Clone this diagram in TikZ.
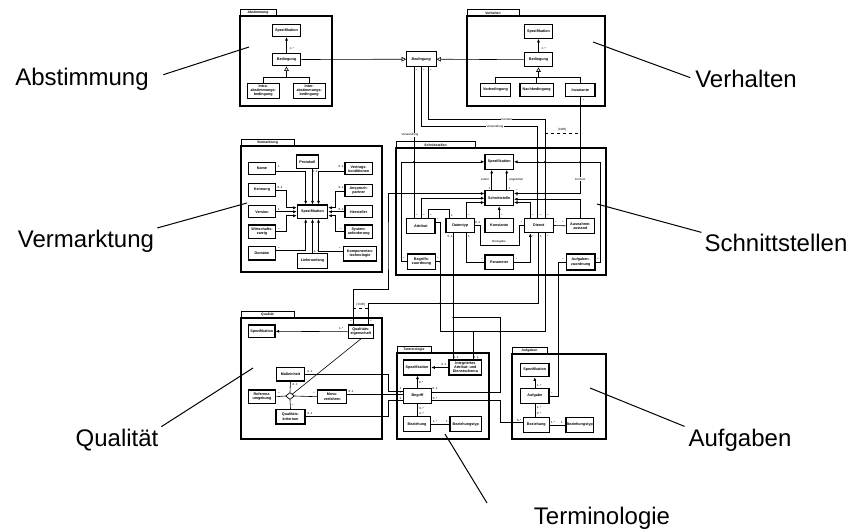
\documentclass[tikz,border=0pt]{standalone}
\usepackage{fontspec}
\setmainfont{Liberation Sans}
\usetikzlibrary{arrows.meta,positioning,calc,shapes.geometric}

\newcommand{\bxf}{\fontsize{3.7}{4.1}\selectfont\bfseries}
\newcommand{\mlf}{\fontsize{3}{3.4}\selectfont}
\newcommand{\tabf}{\fontsize{3.4}{4}\selectfont\bfseries}
\newcommand{\lblf}{\fontsize{24}{28}\selectfont}

\begin{document}
\begin{tikzpicture}[x=1pt,y=-1pt,line width=0.6pt,
  cls/.style={draw,line width=1.2pt,fill=white,inner sep=0pt,align=center,font=\bxf,minimum width=28.4pt,minimum height=13.5pt},
  mult/.style={font=\mlf,inner sep=0.4pt},
  tag/.style={font=\mlf,inner sep=0.6pt,fill=white},
  big/.style={font=\lblf,inner sep=1pt},
  arr/.style={-{Latex[length=3.5pt,width=3pt]}},
  gen/.style={-{Triangle[open,length=4.5pt,width=4.5pt]}},
  pointer/.style={line width=1pt}]
\useasboundingbox (0,0) rectangle (855,531);

% packages
\foreach \xa/\ya/\xb/\yb/\xt/\nm [count=\k] in {240/16/332/106/276/Abstimmung, 467/16/605/106/519/Verhalten,
  241/146/382/272/294/Vermarktung, 396/148/606/275/475/Schnittstellen, 241/318/382/439/294/Qualität,
  397/353/489/439/431/Terminologie, 512/354/606/439/547/Aufgaben}{
  \draw[line width=0.6pt] (\xa,\ya) rectangle (\xt,\ya-6.5);
  \node[font=\tabf,inner sep=0pt] (tab\k) at ({(\xa+\xt)/2},\ya-3.2) {\nm};
  \draw[line width=1.2pt] (\xa,\ya) rectangle (\xb,\yb);
  \draw[line width=2pt] (\xa,\ya) -- (\xb,\ya);
}

% Abstimmung
\node[cls,minimum height=12pt] (aSpez) at (286.5,30.5) {Spezifikation};
\node[cls,minimum height=12.5pt] (aBed) at (286.5,59.5) {Bedingung};
\node[cls,minimum width=32pt,minimum height=15.5pt] (aIntra) at (263.3,91) {Intra-\\abstimmungs-\\bedingung};
\node[cls,minimum width=32pt,minimum height=15.5pt] (aInter) at (309.2,91) {Inter-\\abstimmungs-\\bedingung};
% Bedingung
\node[cls,line width=0.8pt,font=\bxf\itshape,minimum width=29.5pt,minimum height=15pt] (mBed) at (421.3,59.2) {Bedingung};
% Verhalten
\node[cls] (hSpez) at (538.5,31.5) {Spezifikation};
\node[cls,minimum height=14pt] (hBed) at (538.5,59.7) {Bedingung};
\node[cls,minimum width=29.5pt] (hVor) at (495.5,90) {Vorbedingung};
\node[cls,minimum width=33.3pt] (hNach) at (536.7,90) {Nachbedingung};
\node[cls,minimum width=29.3pt] (hInv) at (580.3,90) {Invariante};
% Vermarktung
\node[cls,minimum width=27.4pt,minimum height=11.6pt] (vName) at (262,168.5) {Name};
\node[cls,minimum width=27.4pt] (vKenn) at (262,190) {Kennung};
\node[cls,minimum width=27.4pt,minimum height=12pt] (vVers) at (262,211.7) {Version};
\node[cls,minimum width=27.4pt] (vWirt) at (262,231.7) {Wirtschafts-\\zweig};
\node[cls,minimum width=27.4pt] (vDom) at (262,253.3) {Domäne};
\node[cls,minimum width=21.6pt] (vProt) at (307.5,161.7) {Protokoll};
\node[cls,minimum width=30.4pt] (vSpez) at (312.5,211.7) {Spezifikation};
\node[cls,minimum width=30.4pt,minimum height=15pt] (vLief) at (312.5,260.8) {Lieferumfang};
\node[cls,minimum width=27.3pt,minimum height=12pt] (vVert) at (358.7,168.8) {Vertrags-\\konditionen};
\node[cls,minimum width=27.3pt,minimum height=12pt] (vAnsp) at (358.7,190.8) {Ansprech-\\partner};
\node[cls,minimum width=27.3pt,minimum height=12pt] (vHerst) at (358.7,211.7) {Hersteller};
\node[cls,minimum width=27.3pt] (vSys) at (358.7,231.7) {System-\\anforderung};
\node[cls,minimum width=33.4pt,minimum height=14.3pt] (vKomp) at (360,253.8) {Komponenten-\\technologie};
% Schnittstellen
\node[cls,minimum height=15pt] (sSpez) at (499.2,161.8) {Spezifikation};
\node[cls,minimum height=15pt] (sSchn) at (499.2,198.2) {Schnittstelle};
\node[cls,minimum height=14.4pt] (sKon) at (499.2,225.5) {Konstante};
\node[cls,minimum height=14.4pt] (sDat) at (460.2,225.5) {Datentyp};
\node[cls,minimum width=29pt,minimum height=14.4pt] (sDien) at (538.8,225.5) {Dienst};
\node[cls,minimum height=14.3pt] (sPar) at (499.2,262.2) {Parameter};
\node[cls,minimum height=15pt] (sAttr) at (420.8,225.8) {Attribut};
\node[cls,minimum height=15.3pt] (sBegr) at (421.5,261.7) {Begriffs-\\zuordnung};
\node[cls,minimum height=15pt] (sAusn) at (580.3,225.8) {Ausnahme-\\zustand};
\node[cls,minimum height=16pt] (sAufg) at (580.8,262) {Aufgaben-\\zuordnung};
% Qualitaet
\node[cls,minimum width=26.7pt,minimum height=12.7pt] (qSpez) at (261.7,331.3) {Spezifikation};
\node[cls,minimum width=25pt,minimum height=13.3pt] (qEig) at (360.8,331.7) {Qualitäts-\\eigenschaft};
\node[cls,minimum width=27.6pt,minimum height=13.3pt] (qMass) at (290.5,374.3) {Maßeinheit};
\node[cls,minimum width=27.4pt,minimum height=13.3pt] (qRef) at (262,396.7) {Referenz-\\umgebung};
\node[cls,minimum width=29pt,minimum height=13.3pt] (qMess) at (332.2,396.7) {Mess-\\verfahren};
\node[cls,minimum width=29pt,minimum height=14.7pt] (qKrit) at (290.5,416.7) {Qualitäts-\\kriterium};
\node[diamond,draw,fill=white,inner sep=0pt,minimum width=9pt,minimum height=7pt,line width=0.7pt] (qDia) at (290,396) {};
% Terminologie
\node[cls,minimum width=27.4pt,minimum height=15pt] (tSpez) at (417,367.5) {Spezifikation};
\node[cls,minimum width=32.7pt,minimum height=15pt] (tInt) at (465.3,367.5) {Integriertes\\Attribut- und\\Dienstschema};
\node[cls,minimum height=15pt] (tBegr) at (417.5,395.8) {Begriff};
\node[cls,minimum width=27.4pt,minimum height=15pt] (tBez) at (417,424.2) {Beziehung};
\node[cls,minimum width=31.7pt,minimum height=15pt] (tTyp) at (465.8,424.2) {Beziehungstyp};
% Aufgaben
\node[cls,minimum height=13.4pt] (uSpez) at (534.8,370) {Spezifikation};
\node[cls,minimum height=15pt] (uAufg) at (534.8,395.8) {Aufgabe};
\node[cls,minimum width=26pt,minimum height=14.6pt] (uBez) at (536.3,425) {Beziehung};
\node[cls,minimum width=27.3pt,minimum height=14.6pt] (uTyp) at (579.7,425) {Beziehungstyp};

% inside Abstimmung and Verhalten
\draw[arr] (aBed) -- (aSpez);
\coordinate (aJ) at (286.5,77.5);
\draw (aIntra.north) |- (aJ) -| (aInter.north);
\draw[gen] (aJ) -- (aBed.south);
\draw[arr] (hBed) -- (hSpez);
\coordinate (hJ) at (538.5,77.3);
\draw (hVor.north) |- (hJ) -| (hInv.north);
\draw (hNach.north) -- (hNach.north |- hJ);
\draw[gen] (hJ) -- (hBed.south);
\draw[gen] (aBed.east) -- (mBed.west);
\draw[gen] (hBed.west) -- (mBed.east);

% Vermarktung
\draw[arr] ([yshift=-2.5pt]vName.east) -| ([xshift=-6.8pt]vSpez.north);
\draw[arr] (vProt.south -| vSpez.north) -- (vSpez.north);
\draw[arr] ([yshift=-2.5pt]vVert.west) -| ([xshift=6pt]vSpez.north);
\draw[arr] (vKenn.east) -- (286.7,190) |- ([yshift=4pt]vSpez.west);
\draw[arr] (vVers.east) -- (vSpez.west);
\draw[arr] (vWirt.east) -- (286.7,231.7) |- ([yshift=-4pt]vSpez.west);
\draw[arr] ([yshift=3pt]vDom.east) -| ([xshift=-6.8pt]vSpez.south);
\draw[arr] (vLief.north) -- (vSpez.south);
\draw[arr] ([yshift=3pt]vKomp.west) -| ([xshift=6pt]vSpez.south);
\draw[arr] (vAnsp.west) -- (335,190.8) |- ([yshift=4pt]vSpez.east);
\draw[arr] (vHerst.west) -- (vSpez.east);
\draw[arr] (vSys.west) -- (335,231.7) |- ([yshift=-4pt]vSpez.east);

% Schnittstellen
\draw[arr] (sBegr.west) -- ++(-5.5,0) |- (sSpez.west);
\draw[arr] (sAufg.east) -- ++(5,0) |- (sSpez.east);
\draw[arr] ([xshift=-7.5pt]sSchn.north) -- ([xshift=-7.5pt]sSpez.south);
\draw[arr] ([xshift=7.5pt]sSchn.north) -- ([xshift=7.5pt]sSpez.south);
\draw[arr] (sKon) -- (sSchn);
\draw[arr] ([xshift=6.5pt]sDat.north) |- ([yshift=-4.3pt]sSchn.west);
\draw[arr] (sAttr.north) |- (sSchn.west);
\draw[arr] ([xshift=-8.5pt]sDien.north) |- ([yshift=-4.3pt]sSchn.east);
\draw[arr] (hInv.south) |- ([yshift=4.7pt]sSchn.east);
\draw[arr] (sAusn.north) |- ([yshift=-1pt]sSchn.east);
\draw ([xshift=7.5pt]sAttr.north) -- ++(0,-8) -| ([xshift=-11pt]sDat.north);
\draw (sDat.east) -- ++(5.5,0) |- (519,245) |- (sDien.west);
\draw ([xshift=6.5pt]sDat.south) |- (sPar.west);
\draw[arr] (sPar.east) -| ([xshift=-8.5pt]sDien.south);
\draw (sDien.east) -- (sAusn.west);
\draw (sAufg.west) -- ++(-7.5,0) |- (uAufg.east);
\draw ([xshift=-7.3pt]mBed.south) -- ([xshift=-7.3pt]mBed.south |- sAttr.north);
\draw (mBed.south) -- (421.3,126.7) -| ([xshift=-1.1pt]sDien.north);
\draw ([xshift=7pt]mBed.south) -- (428.3,119.3) -| ([xshift=6.2pt]sDien.north);
\draw[dashed] (545,133.3) -- (580.3,133.3);

% between the packages
\draw[arr] ([xshift=-7.5pt]qEig.north) -- ++(0,-35) -| (388,250) |- ([yshift=4.7pt]sSchn.west);
\draw ([xshift=-0.5pt]sDien.south) -- (538.3,303.3) -| ([xshift=7.5pt]qEig.north);
\draw[dashed] (353.3,308) -- (368.3,308);
\draw ([xshift=6.2pt]sDien.south) -- (545,331.7) -| ([xshift=8pt]tInt.north);
\draw ([yshift=4pt]sAttr.east) -| (440,331.7) -- (473.3,331.7);
\draw (sBegr.east) -- (440,261.7);
\draw ([xshift=-12pt]tInt.north) -- ([xshift=-12pt]tInt.north |- sDat.south);
\draw (453.3,317.7) -- (500,317.7) |- ([yshift=4pt]tBegr.east);
\draw ([yshift=-4pt]tBegr.east) -- (500,399.8) |- ([yshift=3pt]uBez.west);

% Qualitaet
\draw[arr] (qEig.west) -- (qSpez.east);
\draw (qEig.south) -- (qDia.north east);
\draw (qRef.east) -- (qDia.west);
\draw (qMess.west) -- (qDia.east);
\draw (qMass.south) -- (qDia.north);
\draw (qKrit.north) -- (qDia.south);
\draw (qMass.east) -- (388,374.3) |- ([yshift=5pt]tBegr.west);
\draw ([yshift=2pt]qMess.east) -- ([yshift=2pt]qMess.east -| tBegr.west);
\draw (qKrit.east) -- (388,416.7) |- ([yshift=-4.2pt]tBegr.west);

% Terminologie and Aufgaben
\draw[arr] (tInt.west) -- (tSpez.east);
\draw[arr] (tBegr.north) -- (tBegr.north |- tSpez.south);
\draw (tBegr.south) -- (tBegr.south |- tBez.north);
\draw (tBez) -- (tTyp);
\draw[arr] (uAufg) -- (uSpez);
\draw (uAufg) -- (uAufg |- uBez.north);
\draw (uBez) -- (uTyp);

% junctions
\foreach \p in {(414,161.8),(414,193.5),(401.8,193.5),(537.7,161.8),(545,161.8),(580.3,161.8),
  (537.7,193.5),(545,193.5),(537.7,199.2),(545,199.2),(440,303.3),(453.3,303.3),(453.3,317.7),
  (440,261.7),(473.3,331.7),(500,331.7),(453.3,331.7)}
  \fill \p circle (0.9pt);

% multiplicities
\foreach \x/\y/\s [count=\i] in {291.5/48.5/1..*, 543.5/48.5/1..*, 416.5/70/*, 424/70/*, 431/70/*, 583.5/100/*,
  279/166/1, 280/187.5/0..1, 279/209/1, 279/229/*, 279/248/*, 315/171/0..1, 341/166/0..1, 341/187.5/0..1,
  341/209/0..1, 341/229/*, 340/248/*, 316/251/1..*,
  489.5/188.5/1, 509.5/188.5/1, 502/215/*, 469/215/*, 417/215/*, 424/215/*, 431/215/*, 452/215/1,
  477.5/222/0..1, 521.5/222/*, 533/215/*, 541/215/*, 548/215/*, 533/236/*, 541/236/1, 548/236/*,
  469/236/1, 482/259/*, 516.5/259/*, 450/236/0..1, 556/222/*, 563/222/*, 563/259/*, 598/259/*,
  404/258/*, 438/258/*, 438/219/*, 517/190.5/*, 517/196.5/*,
  341/328.5/1..*, 351/321/*, 371/321/*, 279/393/*, 314/393/*, 295/384/0..1, 293/405/*,
  310/371/0..1, 351/391/0..1, 310/413.5/0..1, 400.5/388.5/1, 400.5/392.5/1, 400.5/398.5/1,
  444/364/0..1, 456/357/0..1, 476/357/0..1, 421/382/0..*, 435/388.5/0..1, 435/398.5/0..*,
  421.5/408/0..*, 421.5/413/2..*, 435/421/1..*, 447/421/1,
  539/385/1..*, 539/407/1..*, 539/413/0..*, 519/420/0..*, 553/422/1..*, 562/422/1, 552/393/*}
  \node[mult] (m\i) at (\x,\y) {\s};

% connector labels
\node[mult,anchor=east] (lbExtern) at (490,180) {extern};
\node[mult,anchor=west] (lbAngeb) at (508.5,180) {angeboten};
\node[mult] (lbRueck) at (499,241.5) {Rückgabe};
\node[tag] (lbKontextA) at (506.7,119.3) {Kontext};
\node[tag] (lbVerwA) at (495,126.7) {Verwendung};
\node[tag] (lbVerwB) at (410,135) {Verwendung};
\node[tag] (lbKontextB) at (580.3,179) {Kontext};
\node[tag] (lbXorA) at (562,130) {[XOR]};
\node[tag] (lbXorB) at (360.8,305) {[XOR]};

% package names
\node[big] (lAbst) at (82,79) {Abstimmung};
\node[big] (lVerh) at (746,79) {Verhalten};
\node[big] (lVerm) at (86,241) {Vermarktung};
\node[big] (lSchn) at (776,243) {Schnittstellen};
\node[big] (lQual) at (117,440) {Qualität};
\node[big] (lAufg) at (740,440) {Aufgaben};
\node[big] (lTerm) at (602,518) {Terminologie};
\coordinate (pAbst) at (249,47);
\coordinate (pVerh) at (593,42);
\coordinate (pVerm) at (247,203);
\coordinate (pSchn) at (597,204);
\coordinate (pQual) at (253,368);
\coordinate (pAufg) at (590,388);
\coordinate (pTermA) at (487,503);
\coordinate (pTermB) at (445,434);
\draw[pointer,shorten <=14pt] (lAbst.east) -- (pAbst);
\draw[pointer,shorten <=4pt] (lVerh.west) -- (pVerh);
\draw[pointer,shorten <=2pt] (lVerm.north east) -- (pVerm);
\draw[pointer,shorten <=2pt] (lSchn.north west) -- (pSchn);
\draw[pointer,shorten <=2pt] (lQual.north east) -- (pQual);
\draw[pointer,shorten <=3pt] (lAufg.north west) -- (pAufg);
\draw[pointer] (pTermA) -- (pTermB);
\end{tikzpicture}
\end{document}
